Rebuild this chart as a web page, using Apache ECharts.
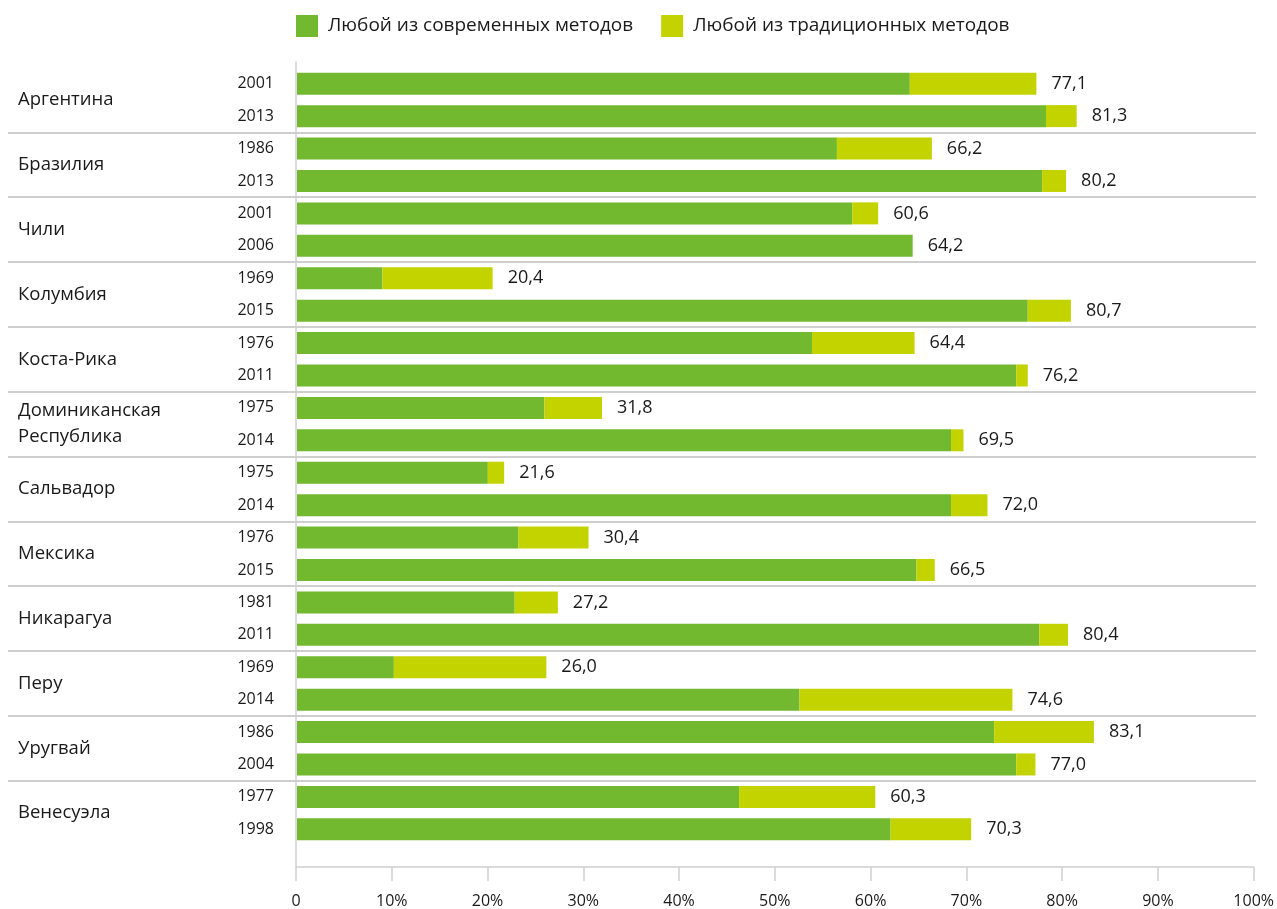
<!DOCTYPE html>
<html>
<head>
<meta charset="utf-8">
<script src="https://cdn.jsdelivr.net/npm/echarts@6/dist/echarts.min.js"></script>
<style>
  html, body { margin: 0; padding: 0; background: #ffffff; }
  #chart { width: 1277px; height: 909px; }
</style>
</head>
<body>
<div id="chart"></div>
<script>
const countries = ['Аргентина', 'Бразилия', 'Чили', 'Колумбия', 'Коста-Рика',
  'Доминиканская\nРеспублика', 'Сальвадор', 'Мексика', 'Никарагуа', 'Перу', 'Уругвай', 'Венесуэла'];
const years = ['2001', '2013', '1986', '2013', '2001', '2006', '1969', '2015', '1976', '2011',
  '1975', '2014', '1975', '2014', '1976', '2015', '1981', '2011', '1969', '2014',
  '1986', '2004', '1977', '1998'];
const modern = [63.9, 78.1, 56.3, 77.7, 57.9, 64.2, 8.9, 76.2, 53.7, 75.0,
  25.8, 68.2, 19.9, 68.2, 23.1, 64.6, 22.7, 77.4, 10.1, 52.4,
  72.7, 75.0, 46.1, 61.9];
const traditional = [13.2, 3.2, 9.9, 2.5, 2.7, 0, 11.5, 4.5, 10.7, 1.2,
  6.0, 1.3, 1.7, 3.8, 7.3, 1.9, 4.5, 3.0, 15.9, 22.2,
  10.4, 2.0, 14.2, 8.4];
const totals = [77.1, 81.3, 66.2, 80.2, 60.6, 64.2, 20.4, 80.7, 64.4, 76.2,
  31.8, 69.5, 21.6, 72.0, 30.4, 66.5, 27.2, 80.4, 26.0, 74.6,
  83.1, 77.0, 60.3, 70.3];
const xTicks = [0, 10, 20, 30, 40, 50, 60, 70, 80, 90, 100];
const seriesNames = ['Любой из современных методов', 'Любой из традиционных методов'];

const FONT = '"Open Sans", "Noto Sans", sans-serif';
const TEXT = '#1a1a1a';
const GREEN = '#72B92F';
const YELLOW = '#C3D300';
const GRAY = '#cfcfcf';

const chart = echarts.init(document.getElementById('chart'), null, { renderer: 'canvas' });

const option = {
  animation: false,
  textStyle: { fontFamily: FONT, color: TEXT },
  legend: {
    data: seriesNames,
    left: 291,
    top: 10,
    itemWidth: 22,
    itemHeight: 22,
    itemGap: 28,
    icon: 'rect',
    textStyle: { fontFamily: FONT, fontSize: 19, color: TEXT, padding: [0, 0, 0, 5] }
  },
  grid: [
    { left: 297, right: 21, top: 67.5, height: 778, containLabel: false },
    { left: 8, right: 21, top: 67.5, height: 778, containLabel: false },
    { left: 296, right: 21, top: 62, bottom: 42, containLabel: false }
  ],
  xAxis: [
    { gridIndex: 0, type: 'value', min: 0, max: 100, show: false },
    { gridIndex: 1, type: 'value', min: 0, max: 1, show: false },
    {
      gridIndex: 2, type: 'value', min: xTicks[0], max: xTicks[xTicks.length - 1], interval: 10,
      axisLine: { show: true, lineStyle: { color: GRAY, width: 1.5 } },
      axisTick: { show: true, length: 14, lineStyle: { color: GRAY, width: 1.5 } },
      splitLine: { show: false },
      axisLabel: {
        fontFamily: FONT, fontSize: 16, color: TEXT, margin: 26,
        formatter: v => v === 0 ? '0' : v + '%'
      }
    }
  ],
  yAxis: [
    {
      gridIndex: 0, type: 'category', data: years, inverse: true,
      axisLine: { show: false }, axisTick: { show: false }, splitLine: { show: false },
      axisLabel: { fontFamily: FONT, fontSize: 16, color: TEXT, margin: 23 }
    },
    {
      gridIndex: 1, type: 'category', data: countries, inverse: true,
      axisLine: { show: false }, axisTick: { show: false },
      splitLine: { show: true, showMinLine: false, showMaxLine: false, lineStyle: { color: GRAY, width: 2 } },
      axisLabel: { inside: true, margin: 10, fontFamily: FONT, fontSize: 18.5, color: TEXT, lineHeight: 26, align: 'left' }
    },
    {
      gridIndex: 2, type: 'value', min: 0, max: 1,
      axisLine: { show: true, lineStyle: { color: GRAY, width: 1.5 } },
      axisTick: { show: false }, axisLabel: { show: false }, splitLine: { show: false }
    }
  ],
  series: [
    {
      name: seriesNames[0], type: 'bar', stack: 'total', xAxisIndex: 0, yAxisIndex: 0,
      barWidth: 22, itemStyle: { color: GREEN }, data: modern, z: 3
    },
    {
      name: seriesNames[1], type: 'bar', stack: 'total', xAxisIndex: 0, yAxisIndex: 0,
      barWidth: 22, itemStyle: { color: YELLOW }, data: traditional, z: 3,
      label: {
        show: true, position: 'right', distance: 15,
        fontFamily: FONT, fontSize: 18, color: TEXT,
        formatter: p => totals[p.dataIndex].toFixed(1).replace('.', ',')
      }
    }
  ]
};
chart.setOption(option);
</script>
</body>
</html>
